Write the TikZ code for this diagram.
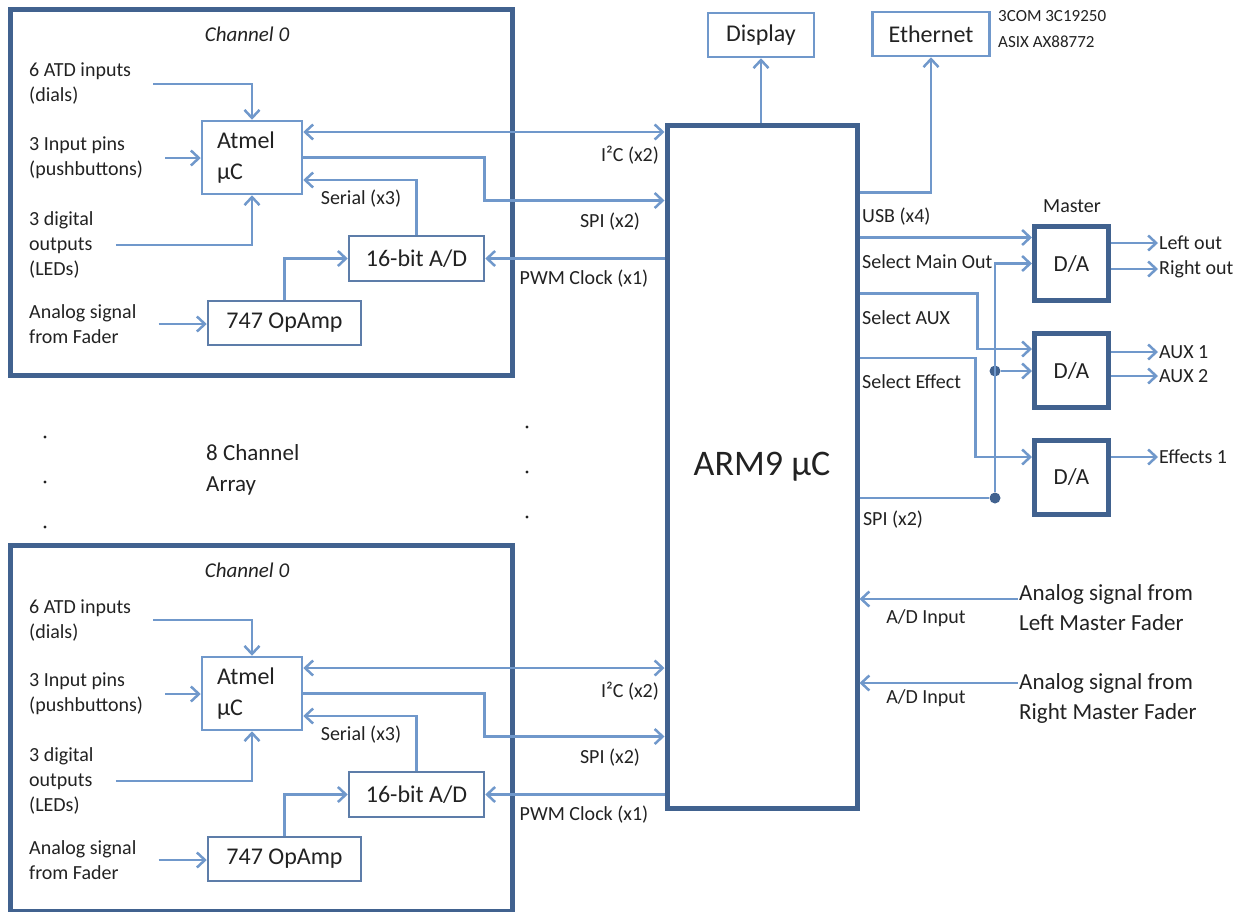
\documentclass[tikz,border=0pt]{standalone}
\usepackage{fontspec}
\setmainfont{Carlito}
\usetikzlibrary{arrows.meta,positioning,calc}
\definecolor{hwframe}{HTML}{41628F}
\definecolor{hwline}{HTML}{7098CB}
\definecolor{hwbox}{HTML}{5D7DA9}
\definecolor{hwtext}{HTML}{222222}
\newcommand{\fsz}[2]{\fontsize{#1}{#2}\selectfont}
\tikzset{
  >={Straight Barb[length=8pt,width=15pt]},
  blk/.style={draw=hwline, line width=2.5pt, fill=white, text=hwtext,
              inner sep=2pt, font=\fsz{24}{29}},
  chip/.style={blk, draw=hwbox},
  frame/.style={draw=hwframe, line width=5pt},
  dac/.style={blk, draw=hwframe, line width=5pt, minimum width=74pt,
              minimum height=74pt, font=\fsz{23}{28}},
  flow/.style={->, draw=hwline, line width=2.5pt},
  both/.style={<->, draw=hwline, line width=2.5pt},
  wire/.style={draw=hwline, line width=2.5pt},
  txt/.style={font=\fsz{20}{25}, text=hwtext, align=left, inner sep=1pt},
  lbl/.style={font=\fsz{20}{24}, text=hwtext, inner sep=1pt},
  dot/.style={circle, fill=hwframe, inner sep=0pt, minimum size=11pt},
}

\begin{document}
\begin{tikzpicture}[x=1pt, y=-1pt]
  \useasboundingbox (0,0) rectangle (1243,911);

  % main controller and its peripherals
  \node[blk, draw=hwframe, line width=5pt, minimum width=190pt, minimum height=683pt,
        font=\fsz{36}{40}] (arm) at (762,466.5) {ARM9 µC};
  \node[blk, minimum width=106pt, minimum height=44pt] (disp) at (761,35) {Display};
  \node[blk, minimum width=117pt, minimum height=44pt] (eth) at (931,34) {Ethernet};
  \node[lbl, font=\fsz{17}{26}, align=left, anchor=west] (ethchip) at (997,29)
    {3COM 3C19250\\ASIX AX88772};

  \draw[flow] (disp.south |- arm.north) -- (disp.south);
  \draw[flow] ([yshift=-70pt]arm.north east) -| (eth.south);

  % the two channel strips
  \foreach \c/\dy in {a/0, b/536} {
    \begin{scope}[yshift=-\dy pt]
      \node[frame, minimum width=502pt, minimum height=366pt] (frame\c) at (261,192) {};
      \node[txt, font=\fsz{21}{25}\itshape] (title\c) at (247,34) {Channel 0};

      \node[txt, anchor=west] (atd\c) at (28,84) {6 ATD inputs\\(dials)};
      \node[txt, anchor=west] (pins\c) at (28,158) {3 Input pins\\(pushbuttons)};
      \node[txt, anchor=west] (leds\c) at (28,245) {3 digital\\outputs\\(LEDs)};
      \node[txt, anchor=west] (fader\c) at (28,324) {Analog signal\\from Fader};

      \node[blk, minimum width=100pt, minimum height=73pt, text width=70pt, align=left,
            font=\fsz{24}{31}] (atmel\c) at (252,157.5) {Atmel\\µC};
      \node[chip, minimum width=135pt, minimum height=45pt] (adc\c) at (416.5,258.5) {16-bit A/D};
      \node[chip, minimum width=153pt, minimum height=44pt] (opamp\c) at (284.5,323) {747 OpAmp};

      \draw[flow] ([xshift=21pt]atd\c.east) -| (atmel\c.north);
      \draw[flow] ([xshift=21pt]pins\c.east) -- (pins\c.east -| atmel\c.west);
      \draw[flow] ([xshift=21pt]leds\c.east) -| (atmel\c.south);
      \draw[flow] ([xshift=21pt]fader\c.east) -- (fader\c.east -| opamp\c.west);
      \draw[flow] (opamp\c.north) |- (adc\c.west);
      \draw[flow] (adc\c.north) |- ([yshift=-22.5pt]atmel\c.east);
      \node[lbl] (serial\c) at (361,199) {Serial (x3)};

      \draw[both] ([yshift=25.5pt]atmel\c.east) coordinate (i2c\c) -- (i2c\c -| arm.west);
      \draw[flow] (atmel\c.east) -- ++(181,0) -- ++(0,43) coordinate (spi\c) -- (spi\c -| arm.west);
      \draw[flow] (adc\c.east -| arm.west) -- (adc\c.east);
      \node[lbl] (i2clbl\c) at (630,155) {I²C (x2)};
      \node[lbl] (spilbl\c) at (610,222) {SPI (x2)};
      \node[lbl] (pwmlbl\c) at (584,279) {PWM Clock (x1)};
    \end{scope}
  }

  % array marks between the strips
  \node[txt, anchor=west, font=\fsz{23}{31}] (array) at (205,470) {8 Channel\\Array};
  \foreach \y in {437,482,527} \fill[hwtext] (45,\y) circle (1.6pt);
  \foreach \y in {427,472,517} \fill[hwtext] (527,\y) circle (1.6pt);

  % output converters
  \node[dac] (da1) at (1071.5,263.5) {D/A};
  \node[dac] (da2) at (1071.5,370.5) {D/A};
  \node[dac] (da3) at (1071.5,477) {D/A};
  \node[lbl] (master) at (1072,206) {Master};
  \node[dot] (j1) at (995,371) {};
  \node[dot] (j2) at (995,498) {};

  \draw[flow] ([yshift=-115pt]arm.north east) coordinate (usb) -- (usb -| da1.west);
  \draw[wire] (j2 -| arm.east) -- (j2);
  \draw[flow] (j2) |- (da1.west);
  \draw[flow] (j1) -- (j1 -| da2.west);
  \draw[flow] ([yshift=-171pt]arm.north east) -- ++(118,0) |- ([yshift=21.5pt]da2.west);
  \draw[flow] ([yshift=-235.5pt]arm.north east) -- ++(116,0) |- ([yshift=20pt]da3.west);

  \node[lbl, anchor=west] (usblbl) at (861,217) {USB (x4)};
  \node[lbl, anchor=west] (mainlbl) at (861,262) {Select Main Out};
  \node[lbl, anchor=west] (auxlbl) at (861,318) {Select AUX};
  \node[lbl, anchor=west] (efflbl) at (861,382) {Select Effect};
  \node[lbl] (dspilbl) at (893,520) {SPI (x2)};

  \node[lbl, anchor=west] (lout) at (1158,243) {Left out};
  \node[lbl, anchor=west] (rout) at (1158,269) {Right out};
  \node[lbl, anchor=west] (aux1) at (1158,352) {AUX 1};
  \node[lbl, anchor=west] (aux2) at (1158,376) {AUX 2};
  \node[lbl, anchor=west] (fx1) at (1158,457) {Effects 1};
  \draw[flow] (lout.west -| da1.east) -- (lout.west);
  \draw[flow] (rout.west -| da1.east) -- (rout.west);
  \draw[flow] (aux1.west -| da2.east) -- (aux1.west);
  \draw[flow] (aux2.west -| da2.east) -- (aux2.west);
  \draw[flow] (fx1.west -| da3.east) -- (fx1.west);

  % master fader inputs
  \node[txt, anchor=west, font=\fsz{23}{30}] (lfader) at (1018,608) {Analog signal from\\Left Master Fader};
  \node[txt, anchor=west, font=\fsz{23}{30}] (rfader) at (1018,698) {Analog signal from\\Right Master Fader};
  \draw[flow] ([yshift=9pt]lfader.west) coordinate (adl) -- (adl -| arm.east);
  \draw[flow] ([yshift=15pt]rfader.west) coordinate (adr) -- (adr -| arm.east);
  \node[lbl] (adlbl1) at (926,618) {A/D Input};
  \node[lbl] (adlbl2) at (926,698) {A/D Input};
\end{tikzpicture}
\end{document}
